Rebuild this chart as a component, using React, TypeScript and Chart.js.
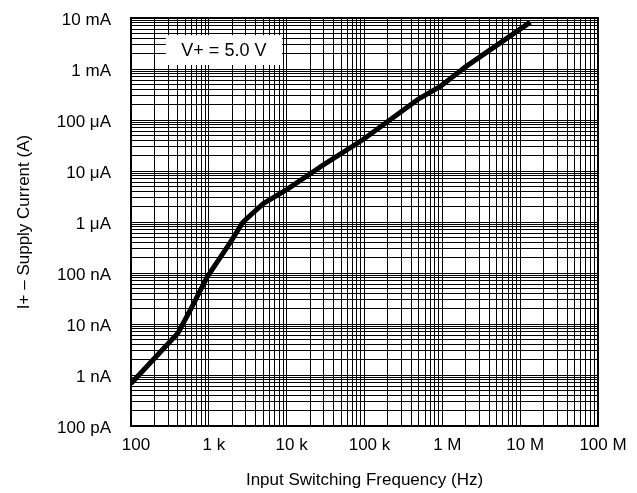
import React, { useEffect, useRef } from 'react';
import { Chart, registerables } from 'chart.js';

Chart.register(...registerables);

// Series: I+ supply current vs input switching frequency (V+ = 5.0 V)
const FREQ_HZ = [100, 400, 600, 950, 1870, 2750, 5000, 10000, 27000, 95000, 480000, 930000, 1900000, 13500000];
const SUPPLY_A = [6.8e-10, 6.6e-9, 2.1e-8, 8.3e-8, 3.9e-7, 1.0e-6, 2.3e-6, 4.3e-6, 1.2e-5, 4.1e-5, 2.5e-4, 4.5e-4, 1.05e-3, 8.3e-3];

// Axis decades and tick labels
const X_MAJOR = [1e2, 1e3, 1e4, 1e5, 1e6, 1e7, 1e8];
const X_LABELS = ['100', '1 k', '10 k', '100 k', '1 M', '10 M', '100 M'];
const Y_MAJOR = [1e-10, 1e-9, 1e-8, 1e-7, 1e-6, 1e-5, 1e-4, 1e-3, 1e-2];
const Y_LABELS = ['100 pA', '1 nA', '10 nA', '100 nA', '1 \u03bcA', '10 \u03bcA', '100 \u03bcA', '1 mA', '10 mA'];
const MINOR_STEPS = [1, 2, 3, 4, 5, 6, 7, 8, 9];

const X_TITLE = 'Input Switching Frequency (Hz)';
const Y_TITLE = 'I+ \u2013 Supply Current (A)';

// Annotation box (data coordinates)
const NOTE_TEXT = 'V+ = 5.0 V';
const NOTE_FREQ = [280, 8700];
const NOTE_CURRENT = [4.6e-3, 1.2e-3];

const FONT = '"Liberation Sans", Arial, Helvetica, sans-serif';

function gridValues(majors: number[]): number[] {
  const out: number[] = [];
  for (let i = 0; i < majors.length - 1; i++) {
    for (const m of MINOR_STEPS) out.push(majors[i] * m);
  }
  out.push(majors[majors.length - 1]);
  return out;
}

function labelFor(value: number, majors: number[], labels: string[]): string {
  const idx = majors.findIndex((v) => Math.abs(v - value) / v < 1e-9);
  return idx >= 0 ? labels[idx] : '';
}

const framePlugin = {
  id: 'frameAndNote',
  beforeDatasetsDraw(chart: any) {
    const { ctx, chartArea, scales } = chart;
    ctx.save();
    ctx.strokeStyle = '#000';
    ctx.lineWidth = 2;
    ctx.strokeRect(chartArea.left, chartArea.top, chartArea.right - chartArea.left, chartArea.bottom - chartArea.top);
    const x1 = scales.x.getPixelForValue(NOTE_FREQ[0]);
    const x2 = scales.x.getPixelForValue(NOTE_FREQ[1]);
    const y1 = scales.y.getPixelForValue(NOTE_CURRENT[0]);
    const y2 = scales.y.getPixelForValue(NOTE_CURRENT[1]);
    ctx.fillStyle = '#fff';
    ctx.fillRect(x1, y1, x2 - x1, y2 - y1);
    ctx.fillStyle = '#000';
    ctx.font = `18px ${FONT}`;
    ctx.textAlign = 'center';
    ctx.textBaseline = 'middle';
    ctx.fillText(NOTE_TEXT, (x1 + x2) / 2, (y1 + y2) / 2 + 1);
    ctx.restore();
  },
};

export default function App() {
  const ref = useRef<HTMLCanvasElement>(null);

  useEffect(() => {
    const xTicks = gridValues(X_MAJOR);
    const yTicks = gridValues(Y_MAJOR);
    const chart = new Chart(ref.current as HTMLCanvasElement, {
      type: 'scatter',
      data: {
        datasets: [
          {
            data: FREQ_HZ.map((f, i) => ({ x: f, y: SUPPLY_A[i] })),
            showLine: true,
            borderColor: '#000',
            backgroundColor: '#000',
            borderWidth: 5,
            pointRadius: 0,
            tension: 0,
            borderJoinStyle: 'round',
          } as any,
        ],
      },
      options: {
        responsive: false,
        animation: false,
        devicePixelRatio: 1,
        layout: { padding: { top: 18, right: 39, left: 0, bottom: 0 } },
        plugins: { legend: { display: false }, tooltip: { enabled: false } },
        scales: {
          x: {
            type: 'logarithmic',
            min: X_MAJOR[0],
            max: X_MAJOR[X_MAJOR.length - 1],
            afterBuildTicks: (scale: any) => {
              scale.ticks = xTicks.map((v) => ({ value: v }));
            },
            afterFit: (scale: any) => {
              scale.height = 67;
              scale.paddingLeft = 0;
              scale.paddingRight = 0;
            },
            grid: { color: '#000', lineWidth: 1, drawTicks: false },
            border: { display: false },
            ticks: {
              autoSkip: false,
              maxRotation: 0,
              padding: 9,
              labelOffset: 5,
              color: '#000',
              font: { family: FONT, size: 17 },
              callback: (v: any) => labelFor(Number(v), X_MAJOR, X_LABELS),
            },
            title: {
              display: true,
              text: X_TITLE,
              color: '#000',
              font: { family: FONT, size: 17 },
              padding: { top: 0, bottom: 2 },
            },
          },
          y: {
            type: 'logarithmic',
            min: Y_MAJOR[0],
            max: Y_MAJOR[Y_MAJOR.length - 1],
            afterBuildTicks: (scale: any) => {
              scale.ticks = yTicks.map((v) => ({ value: v }));
            },
            afterFit: (scale: any) => {
              scale.width = 131;
              scale.paddingTop = 0;
              scale.paddingBottom = 0;
            },
            grid: { color: '#000', lineWidth: 1, drawTicks: false },
            border: { display: false },
            ticks: {
              autoSkip: false,
              padding: 20,
              labelOffset: 2,
              color: '#000',
              font: { family: FONT, size: 17 },
              callback: (v: any) => labelFor(Number(v), Y_MAJOR, Y_LABELS),
            },
            title: {
              display: true,
              text: Y_TITLE,
              color: '#000',
              font: { family: FONT, size: 17 },
              padding: { top: 14, bottom: 0 },
            },
          },
        },
      } as any,
      plugins: [framePlugin],
    });
    return () => chart.destroy();
  }, []);

  return (
    <div style={{ position: 'fixed', left: 0, top: 0, width: 637, height: 493, background: '#fff' }}>
      <canvas ref={ref} width={637} height={493} style={{ display: 'block', width: 637, height: 493 }} />
    </div>
  );
}
